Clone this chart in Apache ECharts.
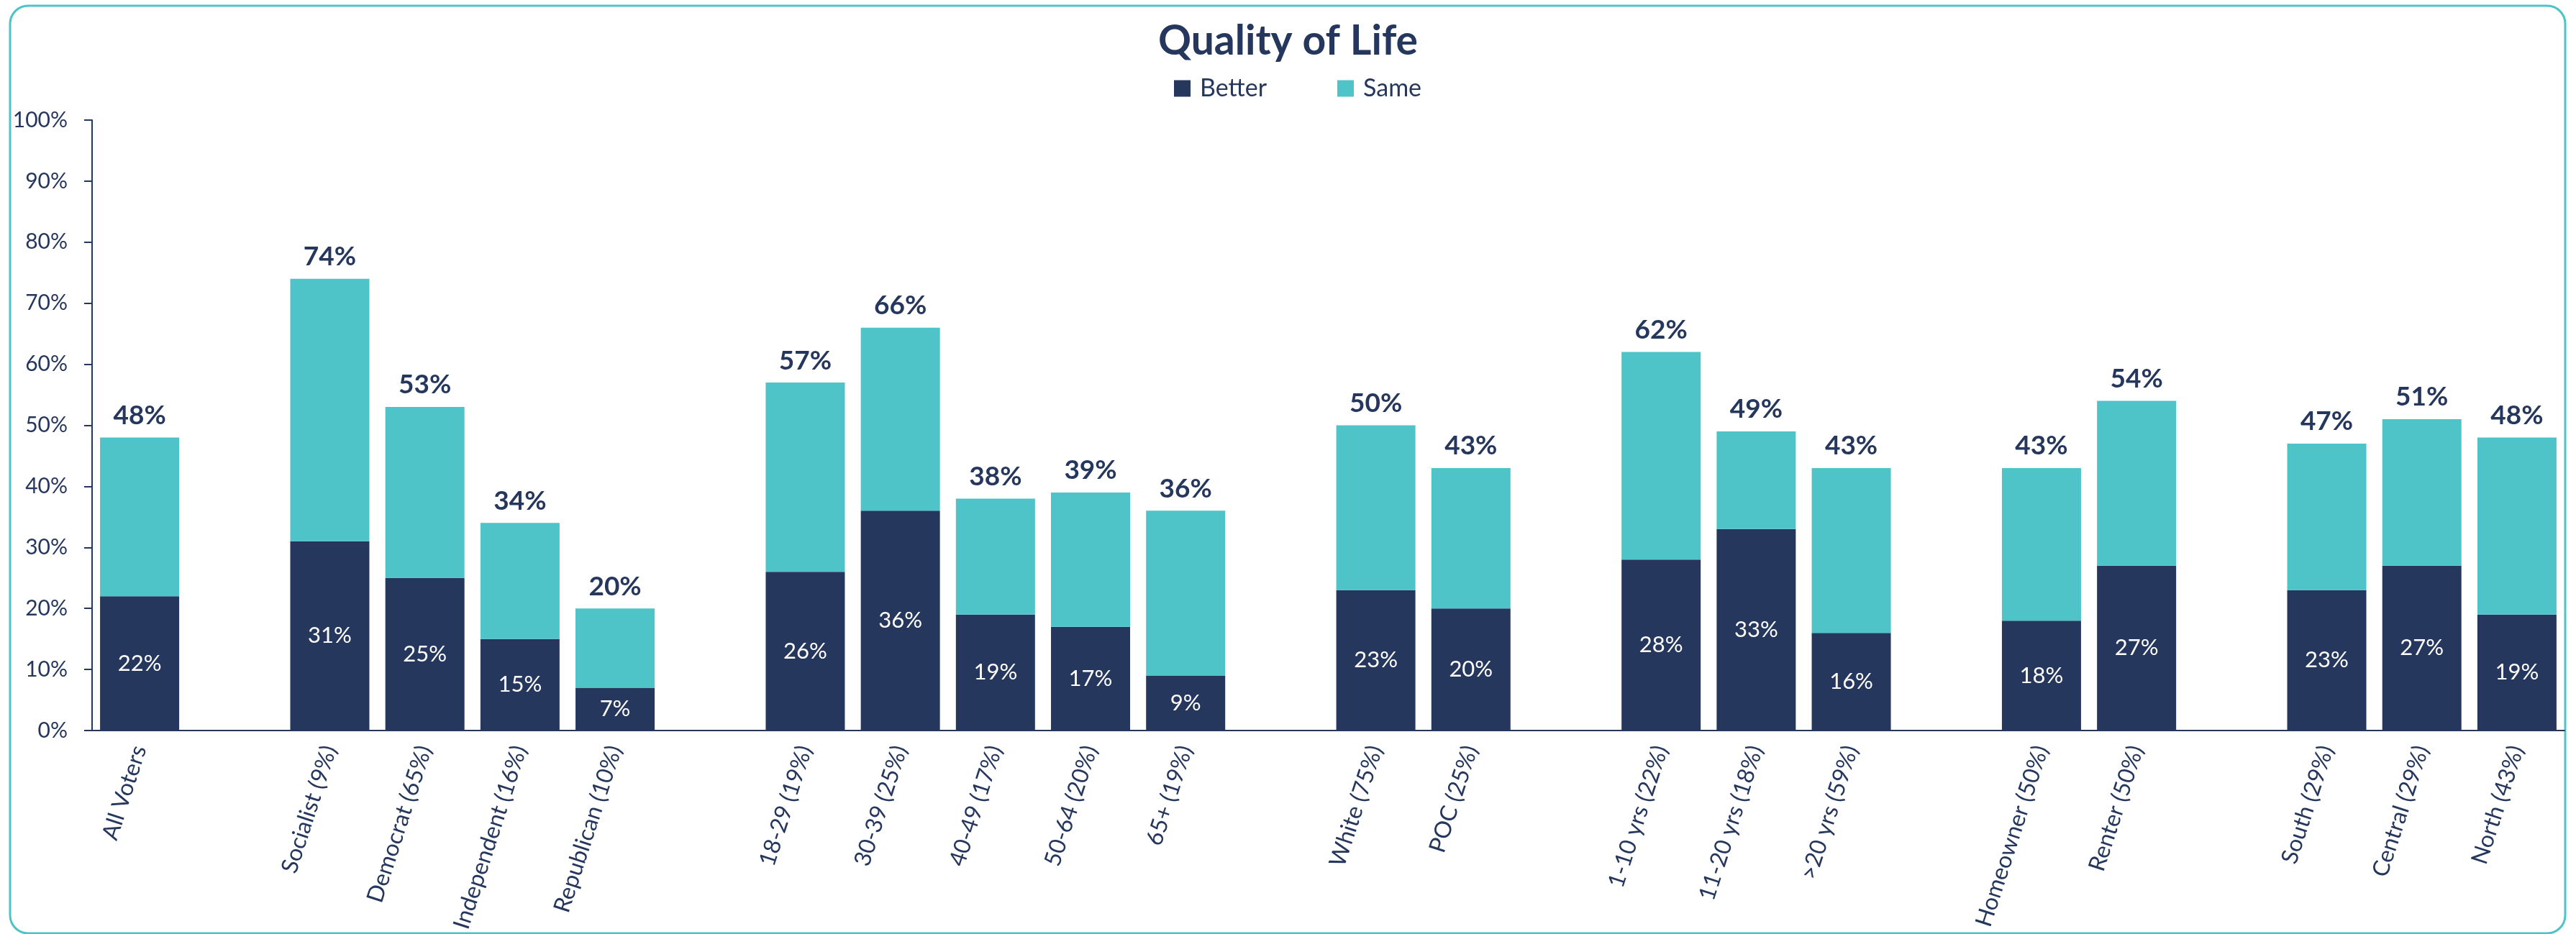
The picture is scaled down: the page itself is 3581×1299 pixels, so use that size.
<!DOCTYPE html>
<html>
<head>
<meta charset="utf-8">
<title>Quality of Life</title>
<script src="https://cdn.jsdelivr.net/npm/echarts@6/dist/echarts.min.js"></script>
<style>
  html, body { margin: 0; padding: 0; background: #ffffff; }
  #chart { width: 3581px; height: 1299px; }
</style>
</head>
<body>
<div id="chart"></div>
<script>
// Segments; empty strings are spacer slots between groups
const categories = [
  'All Voters', '',
  'Socialist (9%)', 'Democrat (65%)', 'Independent (16%)', 'Republican (10%)', '',
  '18-29 (19%)', '30-39 (25%)', '40-49 (17%)', '50-64 (20%)', '65+ (19%)', '',
  'White (75%)', 'POC (25%)', '',
  '1-10 yrs (22%)', '11-20 yrs (18%)', '>20 yrs (59%)', '',
  'Homeowner (50%)', 'Renter (50%)', '',
  'South (29%)', 'Central (29%)', 'North (43%)'
];

// Percent answering "Better"
const better = [
  22, null,
  31, 25, 15, 7, null,
  26, 36, 19, 17, 9, null,
  23, 20, null,
  28, 33, 16, null,
  18, 27, null,
  23, 27, 19
];

// Percent answering "Same"
const same = [
  26, null,
  43, 28, 19, 13, null,
  31, 30, 19, 22, 27, null,
  27, 23, null,
  34, 16, 27, null,
  25, 27, null,
  24, 24, 29
];

const yTicks = [0, 10, 20, 30, 40, 50, 60, 70, 80, 90, 100];

const NAVY = '#26375d';
const TEAL = '#4ec3c8';
const FONT = 'Lato, "Noto Sans", sans-serif';

const chart = echarts.init(document.getElementById('chart'), null, { renderer: 'canvas' });

chart.setOption({
  backgroundColor: '#ffffff',
  animation: false,
  textStyle: { fontFamily: FONT, color: NAVY },
  graphic: [{
    type: 'rect',
    shape: { x: 14, y: 8, width: 3552, height: 1290, r: 25 },
    style: { fill: 'none', stroke: TEAL, lineWidth: 3 },
    silent: true,
    z: -1
  }],
  title: {
    text: 'Quality of Life',
    left: 'center',
    top: 24,
    textStyle: { fontFamily: FONT, fontSize: 57, fontWeight: 'bold', color: NAVY }
  },
  legend: {
    left: 1627,
    top: 101,
    itemWidth: 23,
    itemHeight: 23,
    itemGap: 98,
    icon: 'rect',
    textStyle: { fontFamily: FONT, fontSize: 34, color: NAVY, padding: [0, 0, 0, 8] },
    data: ['Better', 'Same']
  },
  grid: { left: 128, right: 16, top: 167, bottom: 283, containLabel: false },
  xAxis: {
    type: 'category',
    data: categories,
    axisLine: { lineStyle: { color: NAVY, width: 2 } },
    axisTick: { show: false },
    axisLabel: {
      interval: 0,
      rotate: 72,
      margin: 22,
      fontFamily: FONT,
      fontSize: 32,
      color: NAVY
    }
  },
  yAxis: {
    type: 'value',
    min: 0,
    max: 100,
    interval: 10,
    splitLine: { show: false },
    axisLine: { show: true, lineStyle: { color: NAVY, width: 2 } },
    axisTick: { show: true, length: 11, lineStyle: { color: NAVY, width: 2 } },
    axisLabel: {
      margin: 34,
      fontFamily: FONT,
      fontSize: 30,
      color: NAVY,
      formatter: v => (yTicks.includes(v) ? v + '%' : '')
    }
  },
  series: [
    {
      name: 'Better',
      type: 'bar',
      stack: 'total',
      barWidth: 110,
      data: better,
      itemStyle: { color: NAVY },
      label: {
        show: true,
        position: 'inside',
        fontFamily: FONT,
        fontSize: 31,
        color: '#ffffff',
        formatter: p => p.value + '%'
      }
    },
    {
      name: 'Same',
      type: 'bar',
      stack: 'total',
      barWidth: 110,
      data: same,
      itemStyle: { color: TEAL },
      label: {
        show: true,
        position: 'top',
        distance: 12,
        fontFamily: FONT,
        fontSize: 37,
        fontWeight: 'bold',
        color: NAVY,
        formatter: p => (better[p.dataIndex] + same[p.dataIndex]) + '%'
      }
    }
  ]
});
</script>
</body>
</html>
